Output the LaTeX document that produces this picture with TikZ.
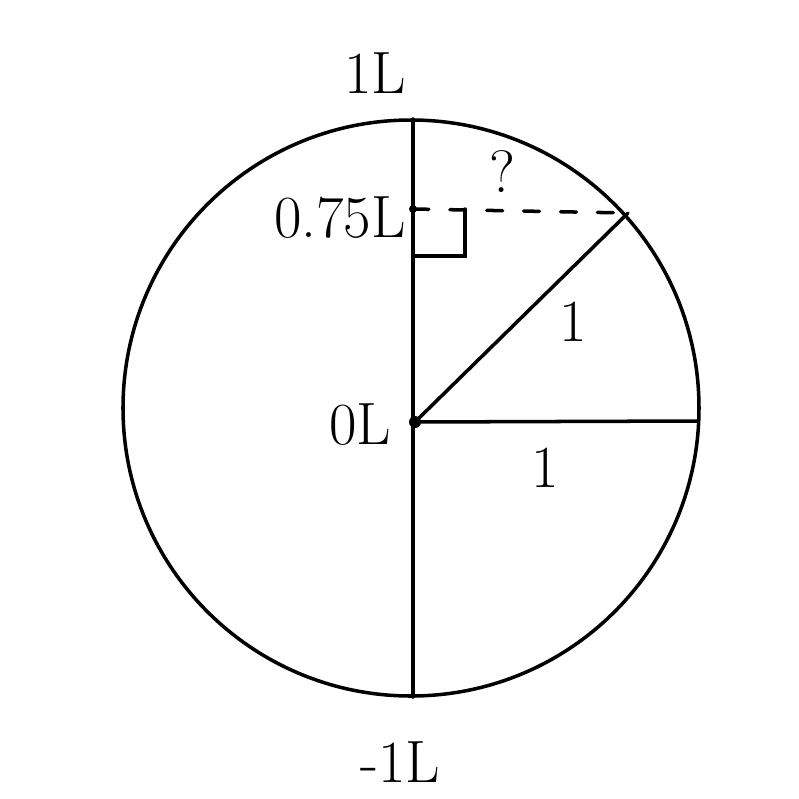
\documentclass[tikz,border=0pt]{standalone}
\usepackage{tikz}
\usetikzlibrary{calc}

\begin{document}
\begin{tikzpicture}[x=0.02cm, y=-0.02cm, line width=2pt, line cap=round,
  lbl/.style={font=\fontsize{34}{38}\selectfont, inner sep=0pt}]
\useasboundingbox (0,0) rectangle (799,799);
% Coordinates
\coordinate (C) at (411,408);
\coordinate (T) at (413,119);
\coordinate (B) at (413,697);
\coordinate (O) at (415,422);
\coordinate (R) at (697,421);
\coordinate (P) at (628,213);
\coordinate (Q) at (413,209);

% Circle and axis
\draw (C) circle (288);
\draw (T) -- (B);

% Radii
\draw (O) -- (R);
\draw (O) -- (P);

% Projection onto the axis
\draw[dashed, dash pattern=on 9pt off 12pt] (Q) -- (P);
\draw ($(Q)+(0,47)$) -- ($(Q)+(52,47)$) -- ($(Q)+(52,0)$);

% Points
\fill (Q) circle (4);
\fill (O) circle (6);

% Labels
\node[lbl] (top) at (375,73) {1L};
\node[lbl] (mid) at (340,218) {0.75L};
\node[lbl] (qq) at (502,172) {?};
\node[lbl] (hyp) at (573,322) {1};
\node[lbl] (org) at (360,425) {0L};
\node[lbl] (rad) at (545,468) {1};
\node[lbl] (bot) at (400,762) {-1L};
\end{tikzpicture}
\end{document}
